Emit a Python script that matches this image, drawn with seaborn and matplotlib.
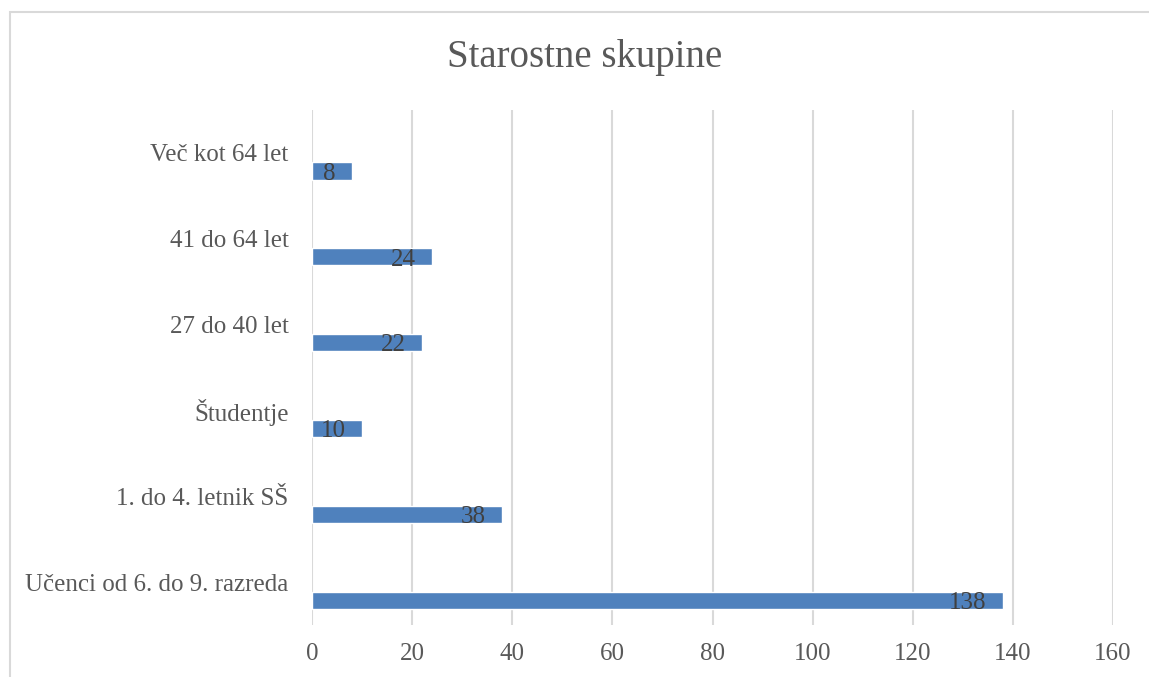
import matplotlib
matplotlib.use("Agg")
import matplotlib.pyplot as plt
import seaborn as sns
import numpy as np
import pandas as pd
from matplotlib.patches import Rectangle

categories = ["Več kot 64 let", "41 do 64 let", "27 do 40 let", "Študentje",
              "1. do 4. letnik SŠ", "Učenci od 6. do 9. razreda"]
values = [8, 24, 22, 10, 38, 138]
x_ticks = [0, 20, 40, 60, 80, 100, 120, 140, 160]

df = pd.DataFrame({"skupina": categories, "stevilo": values})

sns.set_theme(style="white")
plt.rcParams["font.family"] = ["Liberation Serif", "DejaVu Serif"]

fig = plt.figure(figsize=(11.49, 6.77), dpi=100)
ax = fig.add_axes([312 / 1149, 1 - 625 / 677, (1113 - 312) / 1149, (625 - 110) / 677])

sns.barplot(data=df, y="skupina", x="stevilo", orient="h", color="#4f81bd",
            width=0.2, saturation=1, ax=ax)

# Excel-like offset: category label sits above its bar
offset = 0.21
ax.set_ylim(len(categories) - 1 + 0.29, -0.71)
ax.set_yticks(np.arange(len(categories)) - offset, labels=categories)
ax.set_xlim(0, 160)
ax.set_xticks(x_ticks)

ax.grid(axis="x", color="#d9d9d9", linewidth=1.5)
ax.set_axisbelow(True)
for s in ax.spines.values():
    s.set_visible(False)
ax.tick_params(axis="both", length=0, labelsize=18, labelcolor="#595959")
ax.tick_params(axis="x", pad=13)
ax.tick_params(axis="y", pad=17)
ax.set_xlabel("")
ax.set_ylabel("")

labels = ax.bar_label(ax.containers[0], padding=-12, fontsize=18, color="#404040")
for t in labels:
    t.set_ha("right")
    t.xyann = (t.xyann[0], -2)

fig.text(585 / 1149, 1 - 58 / 677, "Starostne skupine", ha="center", va="center",
         fontsize=28, color="#595959")

fig.patches.append(Rectangle((10 / 1149, -0.1), 1.2, 1 - 12 / 677 + 0.1,
                             transform=fig.transFigure, fill=False,
                             edgecolor="#d9d9d9", linewidth=1.5))

fig.savefig("out.png", dpi=100)
